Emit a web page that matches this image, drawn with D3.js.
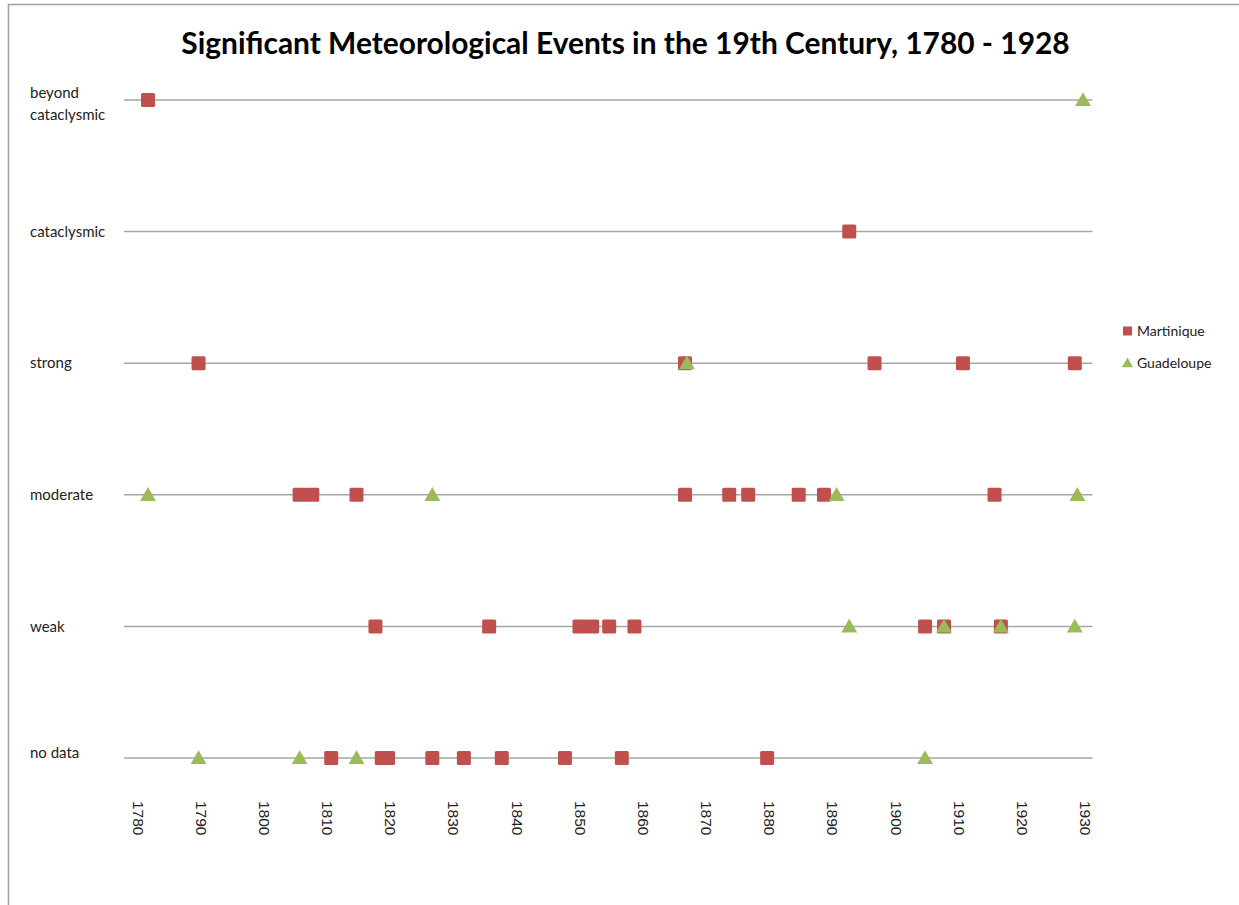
<!DOCTYPE html>
<html>
<head>
<meta charset="utf-8">
<script src="https://cdn.jsdelivr.net/npm/d3@7"></script>
<style>
  body { margin: 0; background: #fff; }
  svg { display: block; }
</style>
</head>
<body>
<svg id="chart" width="1239" height="905"></svg>
<script>
// ---- data ----
const categories = ["beyond cataclysmic", "cataclysmic", "strong", "moderate", "weak", "no data"];
const seriesNames = ["Martinique", "Guadeloupe"];
const xTicks = [1780, 1790, 1800, 1810, 1820, 1830, 1840, 1850, 1860, 1870, 1880, 1890, 1900, 1910, 1920, 1930];

// Martinique events (year, intensity)
const martiniqueYears = [
  1780,
  1891,
  1788, 1865, 1895, 1909, 1926.7,
  1804, 1806, 1813, 1865, 1872, 1875, 1883, 1887, 1914,
  1816, 1834, 1848.3, 1850.3, 1853, 1857, 1903, 1906, 1915,
  1809, 1817, 1818, 1825, 1830, 1836, 1846, 1855, 1878
];
const martiniqueLevels = [
  "beyond cataclysmic",
  "cataclysmic",
  "strong", "strong", "strong", "strong", "strong",
  "moderate", "moderate", "moderate", "moderate", "moderate", "moderate", "moderate", "moderate", "moderate",
  "weak", "weak", "weak", "weak", "weak", "weak", "weak", "weak", "weak",
  "no data", "no data", "no data", "no data", "no data", "no data", "no data", "no data", "no data"
];

// Guadeloupe events (year, intensity)
const guadeloupeYears = [
  1928,
  1865.3,
  1780, 1825, 1889, 1927.1,
  1891, 1906, 1915, 1926.7,
  1788, 1804, 1813, 1903
];
const guadeloupeLevels = [
  "beyond cataclysmic",
  "strong",
  "moderate", "moderate", "moderate", "moderate",
  "weak", "weak", "weak", "weak",
  "no data", "no data", "no data", "no data"
];

const lineExtent = [1776.2, 1929.5];

// ---- chart ----
const svg = d3.select("#chart");
const W = 1239, H = 905;
const colors = { Martinique: "#C0504D", Guadeloupe: "#9BBB59" };

// frame
svg.append("rect")
  .attr("x", 8.5).attr("y", 4.5)
  .attr("width", W + 20).attr("height", H + 20)
  .attr("fill", "none").attr("stroke", "#a0a0a0").attr("stroke-width", 1.5);

const x = d3.scaleLinear().domain([1780, 1928]).range([148, 1083]);
const y = d3.scalePoint().domain(categories).range([100, 758]);

// title
const title = svg.append("text")
  .attr("x", 625.5).attr("y", 54)
  .attr("text-anchor", "middle")
  .style("font-family", "Lato, 'Open Sans', sans-serif")
  .style("font-weight", "bold")
  .style("font-size", "27px")
  .attr("fill", "#000")
  .text("Significant Meteorological Events in the 19th Century, 1780 - 1928");
const tl = title.node().getComputedTextLength();
title.style("font-size", (27 * 889 / tl) + "px");

// horizontal category lines
svg.append("g").selectAll("line")
  .data(categories)
  .join("line")
  .attr("x1", x(lineExtent[0])).attr("x2", x(lineExtent[1]))
  .attr("y1", d => y(d)).attr("y2", d => y(d))
  .attr("stroke", "#a6a6a6").attr("stroke-width", 1.5);

// y labels
const yl = svg.append("g")
  .style("font-family", "Lato, 'Open Sans', sans-serif")
  .style("font-size", "15px")
  .attr("fill", "#222");
categories.forEach(c => {
  const t = yl.append("text").attr("x", 30).attr("y", y(c));
  if (c === "beyond cataclysmic") {
    t.append("tspan").attr("x", 30).attr("y", y(c) - 2).text("beyond");
    t.append("tspan").attr("x", 30).attr("y", y(c) + 20).text("cataclysmic");
  } else if (c === "no data") {
    t.attr("y", y(c) - 5).attr("dy", "0.35em").text(c);
  } else {
    t.attr("dy", "0.35em").text(c);
  }
});

// x axis tick labels (rotated)
const xAxis = d3.axisBottom(x).tickValues(xTicks).tickSize(0).tickFormat(d3.format("d"));
const gx = svg.append("g").attr("transform", "translate(0,792)").call(xAxis);
gx.select(".domain").remove();
gx.selectAll("text")
  .style("font-family", "'Liberation Sans', Arial, sans-serif")
  .style("font-size", "15.5px")
  .attr("fill", "#222")
  .attr("y", 0)
  .attr("dy", 0)
  .attr("text-anchor", "start")
  .attr("transform", "translate(-10.5,9) rotate(90)")
  .attr("dominant-baseline", "central");

// markers
const mData = martiniqueYears.map((yr, i) => ({ year: yr, level: martiniqueLevels[i] }));
const gData = guadeloupeYears.map((yr, i) => ({ year: yr, level: guadeloupeLevels[i] }));

const sq = 14;
svg.append("g").selectAll("rect")
  .data(mData)
  .join("rect")
  .attr("x", d => x(d.year) - sq / 2)
  .attr("y", d => y(d.level) - sq / 2)
  .attr("width", sq).attr("height", sq)
  .attr("rx", 1.5)
  .attr("fill", colors.Martinique);

const tri = d3.symbol().type(d3.symbolTriangle).size(110);
svg.append("g").selectAll("path")
  .data(gData)
  .join("path")
  .attr("d", tri)
  .attr("transform", d => `translate(${x(d.year)},${y(d.level) + 1.5})`)
  .attr("fill", colors.Guadeloupe);

// legend
const lg = svg.append("g")
  .style("font-family", "Lato, 'Open Sans', sans-serif")
  .style("font-size", "14px");
seriesNames.forEach((s, i) => {
  const cy = 331 + i * 32;
  if (s === "Martinique") {
    lg.append("rect").attr("x", 1123).attr("y", cy - 4.5).attr("width", 9).attr("height", 9).attr("fill", colors[s]);
  } else {
    lg.append("path").attr("d", d3.symbol().type(d3.symbolTriangle).size(55))
      .attr("transform", `translate(1127.5,${cy + 1})`).attr("fill", colors[s]);
  }
  lg.append("text").attr("x", 1137).attr("y", cy).attr("dy", "0.35em").attr("fill", "#222").text(s);
});
</script>
</body>
</html>
